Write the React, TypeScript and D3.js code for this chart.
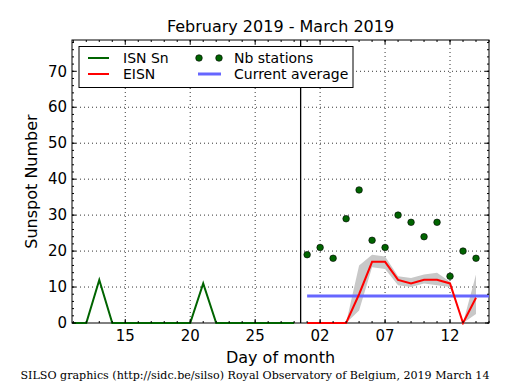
import * as d3 from 'd3';

// day numbers: Feb 1 = 1, Mar 1 = 29
const isnDays = [11, 12, 13, 14, 15, 16, 17, 18, 19, 20, 21, 22, 23, 24, 25, 26, 27, 28];
const isnValues = [0, 0, 12, 0, 0, 0, 0, 0, 0, 0, 11, 0, 0, 0, 0, 0, 0, 0];

const eisnDays = [29, 30, 31, 32, 33, 34, 35, 36, 37, 38, 39, 40, 41, 42];
const eisnValues = [0, 0, 0, 0, 8, 17, 17, 12, 11, 12, 12, 11, 0, 7];
const eisnLow = [0, 0, 0, 0, 3.5, 15.5, 15, 10.5, 10, 11, 10.5, 10, 0, 2.5];
const eisnHigh = [0, 0, 0, 0, 16, 19, 18.5, 13, 12.5, 13.5, 14, 11.5, 0, 13.5];
const stations = [19, 21, 18, 29, 37, 23, 21, 30, 28, 24, 28, 13, 20, 18];

const avgDays = [29, 43];
const avgValue = 7.5;
const splitDay = 28.5;

const xTicks = [15, 20, 25, 30, 35, 40];
const xTickLabels = ['15', '20', '25', '02', '07', '12'];
const yTicks = [0, 10, 20, 30, 40, 50, 60, 70];

const W = 515, H = 390;
const M = { left: 72, right: 489, top: 40, bottom: 323 };
const FONT = '"DejaVu Sans", sans-serif';

export default function App() {
  const x = d3.scaleLinear().domain([10.9, 43]).range([M.left, M.right]);
  const y = d3.scaleLinear().domain([0, 78.7]).range([M.bottom, M.top]);

  const xMinor = d3.range(11, 44);
  const yMinor = d3.range(0, 79, 2);

  const line = d3.line<[number, number]>().x(d => x(d[0])).y(d => y(d[1]));
  const band = d3.area<number>()
    .x((_, i) => x(eisnDays[i]))
    .y0((_, i) => y(eisnLow[i]))
    .y1((_, i) => y(eisnHigh[i]));

  const isnPath = line(isnDays.map((d, i) => [d, isnValues[i]]));
  const eisnPath = line(eisnDays.map((d, i) => [d, eisnValues[i]]));
  const avgPath = line(avgDays.map(d => [d, avgValue]));

  return (
    <div style={{ position: 'absolute', left: 0, top: 0 }}>
      <svg width={W} height={H} style={{ display: 'block', background: '#fff' }}>
        <defs>
          <clipPath id="plot">
            <rect x={M.left} y={M.top} width={M.right - M.left} height={M.bottom - M.top + 2} />
          </clipPath>
        </defs>

        {/* grid */}
        {xTicks.map(t => (
          <line key={'gx' + t} x1={x(t)} x2={x(t)} y1={M.top} y2={M.bottom}
            stroke="#000" strokeWidth={0.8} strokeDasharray="1,3" />
        ))}
        {yTicks.filter(t => t > 0).map(t => (
          <line key={'gy' + t} x1={M.left} x2={M.right} y1={y(t)} y2={y(t)}
            stroke="#000" strokeWidth={0.8} strokeDasharray="1,3" />
        ))}

        <rect x={M.left} y={M.top} width={M.right - M.left} height={M.bottom - M.top}
          fill="none" stroke="#000" strokeWidth={1} />

        <g clipPath="url(#plot)">
          <path d={band(eisnDays) || ''} fill="#c8c8c8" stroke="none" />
          <path d={avgPath || ''} fill="none" stroke="#6666ff" strokeWidth={3} />
          <path d={isnPath || ''} fill="none" stroke="#006400" strokeWidth={2} />
          <path d={eisnPath || ''} fill="none" stroke="#ff0000" strokeWidth={2} />
          <line x1={x(splitDay)} x2={x(splitDay)} y1={M.top} y2={M.bottom} stroke="#000" strokeWidth={1.3} />
          {eisnDays.map((d, i) => (
            <circle key={'s' + d} cx={x(d)} cy={y(stations[i])} r={3.3}
              fill="#006400" stroke="#000" strokeWidth={0.6} />
          ))}
        </g>

        {/* ticks (inward) */}
        {xMinor.map(t => (
          <g key={'xm' + t}>
            <line x1={x(t)} x2={x(t)} y1={M.bottom} y2={M.bottom - 2} stroke="#000" />
            <line x1={x(t)} x2={x(t)} y1={M.top} y2={M.top + 2} stroke="#000" />
          </g>
        ))}
        {xTicks.map(t => (
          <g key={'xt' + t}>
            <line x1={x(t)} x2={x(t)} y1={M.bottom} y2={M.bottom - 4} stroke="#000" />
            <line x1={x(t)} x2={x(t)} y1={M.top} y2={M.top + 4} stroke="#000" />
          </g>
        ))}
        {yMinor.map(t => (
          <g key={'ym' + t}>
            <line x1={M.left} x2={M.left + 2} y1={y(t)} y2={y(t)} stroke="#000" />
            <line x1={M.right} x2={M.right - 2} y1={y(t)} y2={y(t)} stroke="#000" />
          </g>
        ))}
        {yTicks.map(t => (
          <g key={'yt' + t}>
            <line x1={M.left} x2={M.left + 4} y1={y(t)} y2={y(t)} stroke="#000" />
            <line x1={M.right} x2={M.right - 4} y1={y(t)} y2={y(t)} stroke="#000" />
          </g>
        ))}

        {/* tick labels */}
        {xTicks.map((t, i) => (
          <text key={'xl' + t} x={x(t)} y={341} textAnchor="middle" fontFamily={FONT} fontSize={15}>
            {xTickLabels[i]}
          </text>
        ))}
        {yTicks.map(t => (
          <text key={'yl' + t} x={67} y={y(t)} dy="0.35em" textAnchor="end" fontFamily={FONT} fontSize={15}>
            {t}
          </text>
        ))}

        {/* titles */}
        <text x={(M.left + M.right) / 2} y={32} textAnchor="middle" fontFamily={FONT} fontSize={16}>
          February 2019 - March 2019
        </text>
        <text x={(M.left + M.right) / 2} y={363} textAnchor="middle" fontFamily={FONT} fontSize={16}>
          Day of month
        </text>
        <text transform={`translate(37,${(M.top + M.bottom) / 2}) rotate(-90)`} textAnchor="middle"
          fontFamily={FONT} fontSize={16}>
          Sunspot Number
        </text>
        <text x={20.5} y={379} fontFamily='"DejaVu Serif", serif' fontSize={11}
          textLength={469} lengthAdjust="spacingAndGlyphs">
          SILSO graphics (http://sidc.be/silso) Royal Observatory of Belgium, 2019 March 14
        </text>

        {/* legend */}
        <g fontFamily={FONT} fontSize={14}>
          <rect x={79} y={46.5} width={274} height={41} fill="#fff" stroke="#000" strokeWidth={1} />
          <line x1={88} x2={109} y1={58} y2={58} stroke="#006400" strokeWidth={2} />
          <text x={123} y={58} dy="0.35em">ISN Sn</text>
          <line x1={88} x2={109} y1={74} y2={74} stroke="#ff0000" strokeWidth={2} />
          <text x={123} y={74} dy="0.35em">EISN</text>
          <circle cx={199} cy={58} r={3.3} fill="#006400" stroke="#000" strokeWidth={0.6} />
          <circle cx={219} cy={58} r={3.3} fill="#006400" stroke="#000" strokeWidth={0.6} />
          <text x={234} y={58} dy="0.35em">Nb stations</text>
          <line x1={198} x2={221} y1={74} y2={74} stroke="#6666ff" strokeWidth={3} />
          <text x={234} y={74} dy="0.35em">Current average</text>
        </g>
      </svg>
    </div>
  );
}
